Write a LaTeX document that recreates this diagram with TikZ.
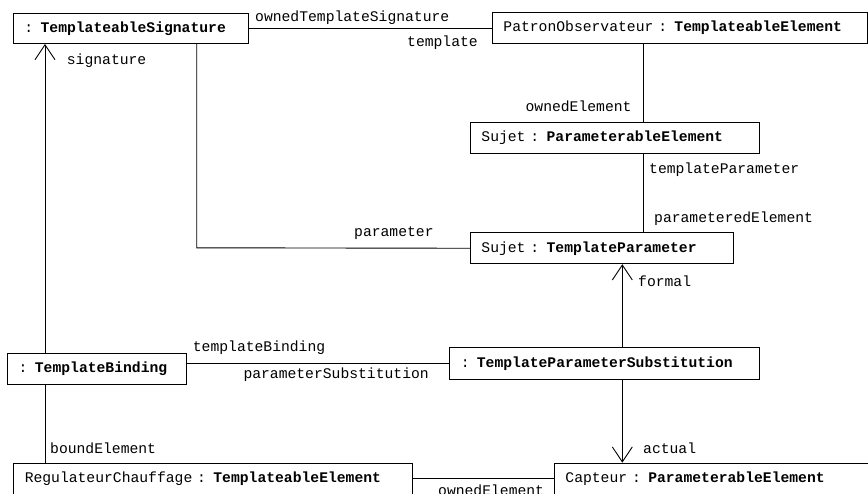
\documentclass[tikz,border=0pt]{standalone}
\usepackage{fontspec}
\setmainfont{Liberation Mono}
\usepackage{xcolor}
\usetikzlibrary{arrows.meta}

\begin{document}
\begin{tikzpicture}[x=1pt, y=-1pt,
    obj/.style={draw, line width=0.9pt, anchor=north west, inner xsep=11pt, inner ysep=0pt,
      align=left, font=\fontsize{14.7}{17}\selectfont},
    role/.style={inner sep=0pt, anchor=west, font=\fontsize{14.7}{17}\selectfont},
    link/.style={line width=0.9pt},
    nav/.style={line width=0.9pt, -{Straight Barb[length=15pt, width=20pt, line width=0.9pt]}}]
  % Fix the page and cut off what runs past it
  \useasboundingbox (0,0) rectangle (868,493);
  \clip (0,0) rectangle (868,493);

  % Rails used by the vertical links
  \coordinate (leftrail) at (45,0);
  \coordinate (bend) at (196.7,247.8);
  \coordinate (midrail) at (643.3,0);
  \coordinate (substrail) at (622.3,0);

  % Instances
  \node[obj, text width=213pt, minimum height=30pt] (sig) at (13,13)
    {: \textbf{TemplateableSignature}};
  \node[obj, text width=353pt, minimum height=31pt] (patron) at (492,12)
    {PatronObservateur : \textbf{TemplateableElement}};
  \node[obj, text width=267pt, minimum height=31.6pt] (sujetelt) at (470,121.7)
    {Sujet : \textbf{ParameterableElement}};
  \node[obj, text width=241pt, minimum height=31pt] (sujetparam) at (470,232.3)
    {Sujet : \textbf{TemplateParameter}};
  \node[obj, text width=157pt, minimum height=31.3pt] (binding) at (7.3,352.7)
    {: \textbf{TemplateBinding}};
  \node[obj, text width=288pt, minimum height=32pt] (subst) at (449.3,347.3)
    {: \textbf{TemplateParameterSubstitution}};
  \node[obj, text width=377pt, minimum height=31pt] (regul) at (13.3,462.7)
    {RegulateurChauffage : \textbf{TemplateableElement}};
  \node[obj, text width=318pt, minimum height=31pt] (capteur) at (554,462.7)
    {Capteur : \textbf{ParameterableElement}};

  % Links
  \draw[link] (sig.east) -- (sig.east -| patron.west);
  \draw[link] (sig.south -| bend) -- (bend) -- (sujetparam.west);
  \draw[nav] (binding.north -| leftrail) -- (sig.south -| leftrail);
  \draw[link] (patron.south -| midrail) -- (sujetelt.north -| midrail);
  \draw[link] (sujetelt.south -| midrail) -- (sujetparam.north -| midrail);
  \draw[nav] (subst.north -| substrail) -- (sujetparam.south -| substrail);
  \draw[nav] (subst.south -| substrail) -- (capteur.north -| substrail);
  \draw[link] (subst.west) -- (subst.west -| binding.east);
  \draw[link] (binding.south -| leftrail) -- (regul.north -| leftrail);
  \draw[link] (regul.east) -- (regul.east -| capteur.west);

  % Role names
  \node[role] (r1) at (255,18) {ownedTemplateSignature};
  \node[role] (r2) at (407,43) {template};
  \node[role] (r3) at (66.7,61) {signature};
  \node[role, anchor=east] (r4) at (631.7,106.7) {ownedElement};
  \node[role] (r5) at (649,170) {templateParameter};
  \node[role] (r6) at (654,218.3) {parameteredElement};
  \node[role] (r7) at (354,233) {parameter};
  \node[role] (r8) at (638,281) {formal};
  \node[role] (r9) at (192.7,348) {templateBinding};
  \node[role] (r10) at (243.3,375) {parameterSubstitution};
  \node[role] (r11) at (50,448) {boundElement};
  \node[role] (r12) at (643,448) {actual};
  \node[role] (r13) at (438,490) {ownedElement};
\end{tikzpicture}
\end{document}
